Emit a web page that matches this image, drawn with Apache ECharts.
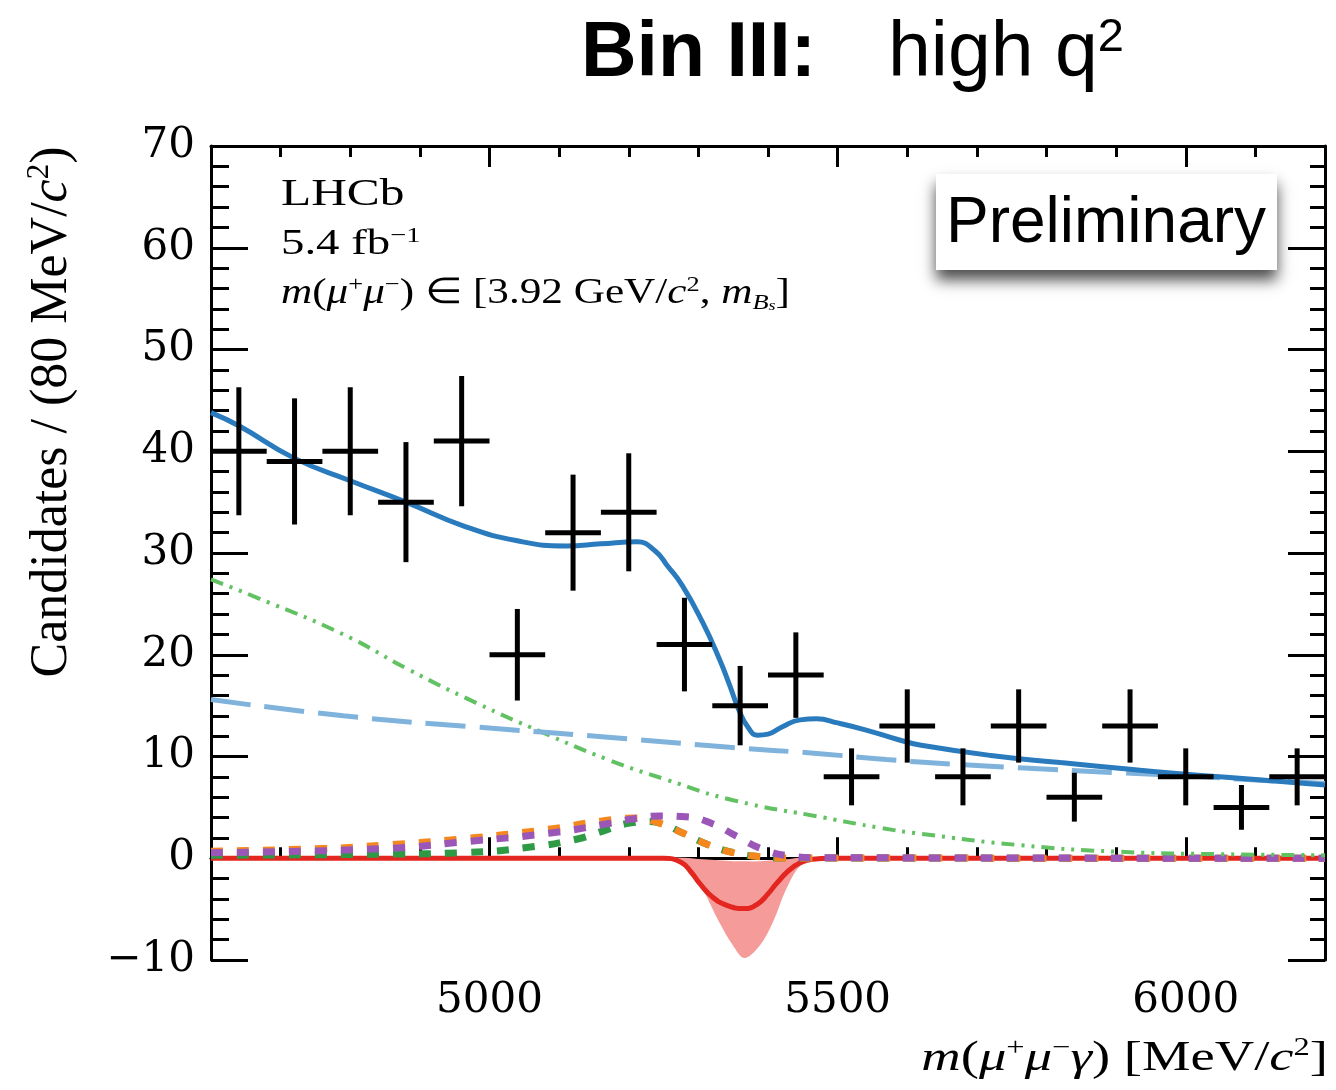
<!DOCTYPE html>
<html><head><meta charset="utf-8">
<script src="https://cdn.jsdelivr.net/npm/echarts@6/dist/echarts.min.js"></script>
<style>html,body{margin:0;padding:0;background:#fff}#c{width:1336px;height:1090px}</style>
</head><body><div id="c"></div>
<script>
// ---- data ----
const binWidth = 80;
const binCenters = [4640,4720,4800,4880,4960,5040,5120,5200,5280,5360,5440,5520,5600,5680,5760,5840,5920,6000,6080,6160];
const counts     = [40,39,40,35,41,20,32,34,21,15,18,8,13,8,13,6,13,8,5,8];
const errors     = [6.3,6.2,6.3,5.9,6.4,4.5,5.7,5.8,4.6,3.9,4.2,2.8,3.6,2.8,3.6,2.4,3.6,2.8,2.2,2.8];

const totalX = [4600,4640,4720,4800,4880,4965,5040,5110,5160,5212,5238,5256,5277,5306,5330,5345,5358,5372,5385,5400,5420,5446,5470,5500,5541,5590,5620,5720,5820,5920,6000,6100,6200];
const totalY = [43.8,42.5,39.3,37.1,35.0,32.6,31.2,30.7,30.9,31.1,30.2,28.7,26.8,23.2,19.6,17.0,14.6,12.8,12.1,12.2,12.9,13.6,13.7,13.3,12.6,11.6,11.1,10.1,9.4,8.75,8.25,7.75,7.2];

const combX = [4600,4790,4980,5170,5345,5470,5570,5665,5760,5905,6000,6100,6200];
const combY = [15.6,14.0,12.9,11.9,10.9,10.3,9.7,9.25,8.9,8.4,8.1,7.7,7.35];

const partX = [4600,4670,4790,4885,4980,5075,5170,5255,5350,5480,5560,5620,5760,5900,6050,6200];
const partY = [27.4,25.5,22.0,18.5,15.3,12.4,9.7,7.7,5.7,4.0,3.0,2.4,1.3,0.65,0.4,0.3];

const orangeX = [4600,4760,4850,4960,5085,5160,5210,5240,5277,5315,5354,5390,5430,6200];
const orangeY = [0.7,0.95,1.3,1.9,2.85,3.65,3.95,3.55,2.5,1.3,0.5,0.15,0.03,0];

const purpleX = [4600,4850,4960,5085,5162,5205,5244,5282,5320,5354,5392,5431,5470,6200];
const purpleY = [0.55,0.95,1.6,2.45,3.3,3.85,4.15,4.07,3.4,2.2,0.9,0.23,0.05,0];

const gdashX = [4600,4850,4967,5053,5125,5162,5201,5228,5250,5277,5315,5354,5390,5430,6200];
const gdashY = [0.3,0.4,0.56,1.05,1.87,2.65,3.45,3.6,3.35,2.5,1.3,0.5,0.15,0.03,0];

const sigX = [4600,5250,5275,5290,5301,5320,5340,5366,5385,5400,5412,5430,5445,5464,5490,6200];
const sigY = [0,0,-0.4,-1.4,-2.4,-3.8,-4.6,-4.95,-4.5,-3.5,-2.5,-1.2,-0.5,-0.1,0,0];

const bandX    = [5250,5280,5306,5330,5350,5366,5388,5407,5426,5446,5470];
const bandLow  = [0,-0.6,-3.05,-6.3,-8.6,-9.8,-8.6,-6.3,-3.05,-0.75,0];
const bandHigh = [0.1,0.05,-0.1,-0.2,-0.3,-0.3,-0.3,-0.2,-0.1,0.05,0.1];

const xTickLabels = [5000,5500,6000];
const yMin = -10, yMax = 70, yStep = 10;
const xMin = 4600, xMax = 6200, xMinorStep = 100;

// ---- chart ----
const pairs = (xs, ys) => xs.map((x, i) => [x, ys[i]]);
const chart = echarts.init(document.getElementById('c'), null, {renderer: 'canvas'});

const SERIF = '"Liberation Serif", "Times New Roman", serif';
const SANS = '"Liberation Sans", Arial, Helvetica, sans-serif';
function serifRich(size, lh) {
  const s = Math.round(size * 0.6);
  return {
    n:   {fontFamily: SERIF, fontSize: size, lineHeight: lh, fill: '#000'},
    i:   {fontFamily: SERIF, fontSize: size, lineHeight: lh, fontStyle: 'italic', fill: '#000'},
    sup: {fontFamily: SERIF, fontSize: s, lineHeight: Math.round(s * 1.1), verticalAlign: 'top', fill: '#000'},
    sub: {fontFamily: SERIF, fontSize: s, lineHeight: Math.round(s * 1.1), verticalAlign: 'bottom', fontStyle: 'italic', fill: '#000'},
    ssub:{fontFamily: SERIF, fontSize: Math.round(size*0.42), lineHeight: Math.round(size*0.42), verticalAlign: 'bottom', fontStyle: 'italic', fill: '#000'}
  };
}

const lineBase = {type: 'line', showSymbol: false, symbol: 'none', smooth: 0.5, silent: true, animation: false, clip: true};

const xAxisCommon = {type: 'value', min: xMin, max: xMax, splitLine: {show: false}, axisPointer: {show: false}};
const option = {
  animation: false,
  grid: {left: 211, right: 11, top: 146, bottom: 130, containLabel: false},
  xAxis: [
    Object.assign({}, xAxisCommon, {position: 'bottom', interval: xMinorStep,
      axisLine: {show: true, lineStyle: {color: '#000', width: 3}},
      axisTick: {show: true, inside: true, length: 11, lineStyle: {color: '#000', width: 3}},
      axisLabel: {show: true, margin: 20, color: '#000', fontFamily: '"DejaVu Serif", serif', fontSize: 42,
        formatter: v => xTickLabels.includes(v) ? String(v) : ''}}),
    Object.assign({}, xAxisCommon, {position: 'bottom', splitNumber: 3,
      axisLine: {show: false},
      axisTick: {show: true, inside: true, length: 21, customValues: xTickLabels, lineStyle: {color: '#000', width: 3}},
      axisLabel: {show: false}}),
    Object.assign({}, xAxisCommon, {position: 'top', interval: xMinorStep,
      axisLine: {show: true, lineStyle: {color: '#000', width: 3}},
      axisTick: {show: true, inside: true, length: 11, lineStyle: {color: '#000', width: 3}},
      axisLabel: {show: false}}),
    Object.assign({}, xAxisCommon, {position: 'top', splitNumber: 3,
      axisLine: {show: false},
      axisTick: {show: true, inside: true, length: 21, customValues: xTickLabels, lineStyle: {color: '#000', width: 3}},
      axisLabel: {show: false}})
  ],
  yAxis: [
    {type: 'value', min: yMin, max: yMax, interval: yStep, position: 'left',
      axisLine: {show: true, lineStyle: {color: '#000', width: 3}},
      axisTick: {show: true, inside: true, length: 37, lineStyle: {color: '#000', width: 3}},
      minorTick: {show: true, splitNumber: 5, length: 18, lineStyle: {color: '#000', width: 3}},
      axisLabel: {show: true, margin: 16, color: '#000', fontFamily: '"DejaVu Serif", serif', fontSize: 42,
        formatter: v => String(v).replace('-', '\u2212')},
      splitLine: {show: false}, minorSplitLine: {show: false}},
    {type: 'value', min: yMin, max: yMax, interval: yStep, position: 'right',
      axisLine: {show: true, lineStyle: {color: '#000', width: 3}},
      axisTick: {show: true, inside: true, length: 37, lineStyle: {color: '#000', width: 3}},
      minorTick: {show: true, splitNumber: 5, length: 15, lineStyle: {color: '#000', width: 3}},
      axisLabel: {show: false}, splitLine: {show: false}, minorSplitLine: {show: false}}
  ],
  series: [
    { // uncertainty band of the signal component
      type: 'custom', coordinateSystem: 'cartesian2d', clip: true, silent: true, z: 1,
      data: [[bandX[0], bandLow[0]]],
      renderItem: (params, api) => {
        const pts = [];
        bandX.forEach((x, i) => pts.push(api.coord([x, bandHigh[i]])));
        for (let i = bandX.length - 1; i >= 0; i--) pts.push(api.coord([bandX[i], bandLow[i]]));
        return {type: 'polygon', shape: {points: pts, smooth: 0.35}, style: {fill: '#f59c9a', stroke: null}};
      }
    },
    Object.assign({}, lineBase, {name: 'signal', z: 2, data: pairs(sigX, sigY),
      lineStyle: {color: '#e3261f', width: 5}}),
    Object.assign({}, lineBase, {name: 'green dashed', z: 3, data: pairs(gdashX, gdashY),
      lineStyle: {color: '#2f9a45', width: 7, type: [12, 14], cap: 'butt'}}),
    Object.assign({}, lineBase, {name: 'orange dashed', z: 4, data: pairs(orangeX, orangeY),
      lineStyle: {color: '#f5871f', width: 7, type: [12, 14], cap: 'butt'}}),
    Object.assign({}, lineBase, {name: 'purple dashed', z: 5, data: pairs(purpleX, purpleY),
      lineStyle: {color: '#9a57b8', width: 7, type: [12, 14], cap: 'butt'}}),
    Object.assign({}, lineBase, {name: 'partially reco', z: 6, data: pairs(partX, partY),
      lineStyle: {color: '#62c162', width: 4, type: [13, 7, 3, 7, 3, 7], cap: 'butt'}}),
    Object.assign({}, lineBase, {name: 'combinatorial', z: 7, data: pairs(combX, combY),
      lineStyle: {color: '#80b3dc', width: 5, type: [40, 14], cap: 'butt'}}),
    Object.assign({}, lineBase, {name: 'total', z: 8, data: pairs(totalX, totalY),
      lineStyle: {color: '#2a7bbd', width: 5}}),
    { // data points with error bars
      type: 'custom', coordinateSystem: 'cartesian2d', clip: true, silent: true, z: 10,
      data: binCenters.map((x, i) => [x, counts[i], errors[i]]),
      encode: {x: 0, y: 1},
      renderItem: (params, api) => {
        const x = api.value(0), y = api.value(1), e = api.value(2);
        const top = api.coord([x, y + e]), bot = api.coord([x, y - e]);
        const l = api.coord([x - binWidth / 2, y]), r = api.coord([x + binWidth / 2, y]);
        return {type: 'group', children: [
          {type: 'line', shape: {x1: top[0], y1: top[1], x2: bot[0], y2: bot[1]}, style: {stroke: '#000', lineWidth: 5}},
          {type: 'line', shape: {x1: l[0], y1: l[1], x2: r[0], y2: r[1]}, style: {stroke: '#000', lineWidth: 5}}
        ]};
      }
    }
  ],
  graphic: [
    // title
    {type: 'text', x: 581, y: 55, z: 20, style: {text: 'Bin III:', fontFamily: SANS, fontSize: 77, fontWeight: 'bold', fill: '#000', align: 'left', verticalAlign: 'middle'}},
    {type: 'text', x: 888, y: 55, z: 20, style: {text: '{n|high q}{s|2}', align: 'left', verticalAlign: 'middle', fill: '#000',
      rich: {n: {fontFamily: SANS, fontSize: 77, lineHeight: 80, fill: '#000'},
             s: {fontFamily: SANS, fontSize: 47, lineHeight: 56, verticalAlign: 'top', fill: '#000'}}}},
    // Preliminary label box
    {type: 'rect', z: 20, shape: {x: 936, y: 174, width: 341, height: 96},
      style: {fill: '#fff', shadowBlur: 14, shadowOffsetY: 10, shadowColor: 'rgba(0,0,0,0.7)'}},
    {type: 'text', x: 1106, y: 224, z: 21, style: {text: 'Preliminary', fontFamily: SANS, fontSize: 64, fill: '#000', align: 'center', verticalAlign: 'middle'}},
    // LHCb annotations
    {type: 'text', x: 281, y: 195, scaleX: 1.3, z: 20, style: {text: 'LHCb', fontFamily: SERIF, fontSize: 38, fill: '#000', align: 'left', verticalAlign: 'middle'}},
    {type: 'text', x: 281, y: 245, scaleX: 1.3, z: 20, style: {text: '{n|5.4 fb}{sup|\u22121}', align: 'left', verticalAlign: 'middle', rich: serifRich(36, 40)}},
    {type: 'text', x: 281, y: 294, scaleX: 1.2, z: 20, style: {
      text: '{i|m}{n|(}{i|\u03bc}{sup|+}{i|\u03bc}{sup|\u2212}{n|) \u2208 [3.92 GeV/}{i|c}{sup|2}{n|, }{i|m}{sub|B}{ssub|s}{n|]}',
      align: 'left', verticalAlign: 'middle', rich: serifRich(36, 40)}},
    // axis titles
    {type: 'text', x: 1328, y: 1059, scaleX: 1.3, z: 20, style: {
      text: '{i|m}{n|(}{i|\u03bc}{sup|+}{i|\u03bc}{sup|\u2212}{i|\u03b3}{n|) [MeV/}{i|c}{sup|2}{n|]}',
      align: 'right', verticalAlign: 'middle', rich: serifRich(42, 46)}},
    {type: 'text', x: 52, y: 412, rotation: Math.PI / 2, z: 20, style: {
      text: '{n|Candidates / (80 MeV/}{i|c}{sup|2}{n|)}',
      align: 'center', verticalAlign: 'middle', rich: serifRich(52, 56)}}
  ]
};
chart.setOption(option);
</script>
</body></html>
